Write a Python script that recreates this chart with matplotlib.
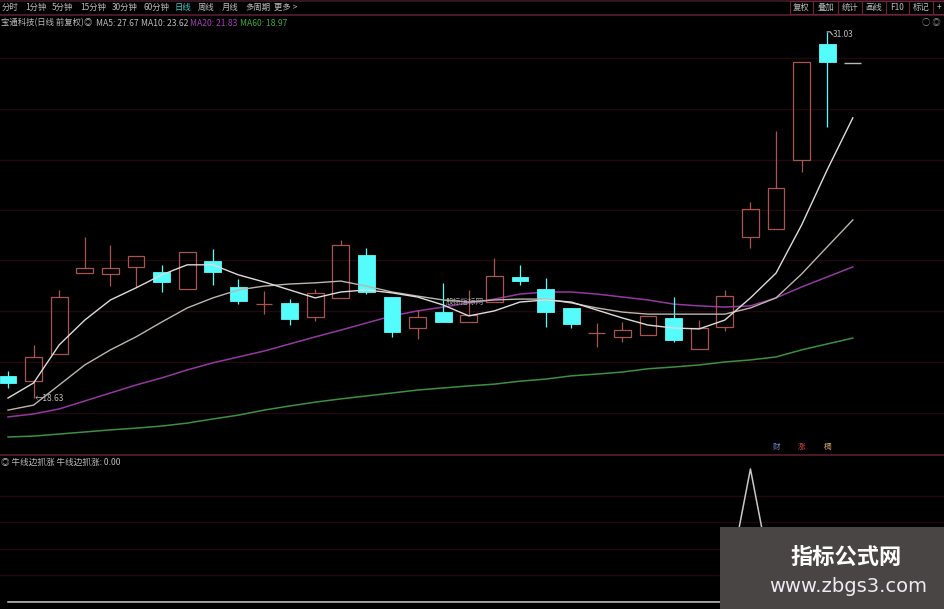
import matplotlib
matplotlib.use('Agg')
import matplotlib.pyplot as plt
from matplotlib.patches import Rectangle
from matplotlib.lines import Line2D

plt.rcParams['font.family'] = ['Noto Sans CJK SC', 'DejaVu Sans']

# daily bars (price units)
opens = [19.38, 19.21, 20.12, 22.87, 22.83, 23.07, 22.90, 22.32, 23.27, 22.39, 21.80, 21.85,
         21.37, 22.02, 23.47, 22.05, 21.00, 21.54, 21.20, 21.88, 22.73, 22.32, 21.68, 20.82,
         20.70, 20.76, 21.34, 20.29, 21.04, 24.08, 24.36, 26.69, 30.62, 29.98]
highs = [19.54, 20.43, 22.29, 24.08, 23.81, 23.44, 23.14, 23.58, 23.68, 22.66, 22.26, 21.98,
         22.32, 23.98, 23.71, 22.05, 21.61, 22.53, 22.29, 23.37, 23.14, 22.70, 21.68, 21.17,
         21.20, 21.41, 22.05, 21.27, 22.29, 25.27, 27.68, 30.01, 31.03, 29.98]
lows = [18.97, 18.63, 20.12, 22.87, 22.42, 22.39, 22.22, 22.32, 22.46, 21.81, 21.47, 21.10,
        21.24, 22.02, 22.15, 20.70, 20.63, 21.20, 21.20, 21.88, 22.46, 21.04, 21.00, 20.36,
        20.53, 20.76, 20.53, 20.29, 20.90, 23.71, 24.36, 26.29, 27.81, 29.98]
closes = [19.14, 20.02, 22.05, 23.03, 23.03, 23.44, 22.56, 23.58, 22.90, 21.92, 21.82, 21.31,
          22.19, 23.81, 22.22, 20.87, 21.37, 21.20, 21.44, 22.76, 22.59, 21.54, 21.14, 20.84,
          20.93, 21.41, 20.60, 21.00, 22.09, 25.03, 25.74, 30.01, 30.01, 29.98]

ma5 = [18.63, 19.14, 20.43, 21.27, 21.95, 22.36, 22.80, 23.14, 23.14, 22.80, 22.56, 22.29,
       22.02, 22.22, 22.29, 22.19, 22.05, 21.78, 21.41, 21.58, 21.88, 21.95, 21.88, 21.61,
       21.34, 21.10, 21.00, 20.97, 21.27, 22.02, 22.86, 24.49, 26.36, 28.12]
ma10 = [18.22, 18.39, 19.07, 19.75, 20.26, 20.70, 21.20, 21.68, 22.02, 22.29, 22.42, 22.49,
        22.53, 22.59, 22.42, 22.22, 22.08, 21.95, 21.88, 21.95, 21.98, 21.98, 21.85, 21.68,
        21.54, 21.47, 21.47, 21.47, 21.47, 21.68, 22.02, 22.83, 23.75, 24.66]
ma20 = [17.99, 18.09, 18.26, 18.53, 18.80, 19.07, 19.31, 19.58, 19.82, 20.02, 20.22, 20.46,
        20.70, 20.93, 21.17, 21.41, 21.58, 21.71, 21.85, 21.98, 22.15, 22.22, 22.22, 22.15,
        22.05, 21.95, 21.81, 21.75, 21.71, 21.75, 22.02, 22.39, 22.73, 23.07]
ma60 = [17.31, 17.34, 17.41, 17.48, 17.55, 17.61, 17.68, 17.78, 17.92, 18.05, 18.22, 18.36,
        18.49, 18.60, 18.70, 18.80, 18.90, 18.97, 19.04, 19.10, 19.20, 19.27, 19.38, 19.44,
        19.51, 19.62, 19.68, 19.75, 19.85, 19.92, 20.02, 20.26, 20.46, 20.66]

signal = [0] * 29 + [1] + [0] * 4

menu_items = ['分时', '1分钟', '5分钟', '15分钟', '30分钟', '60分钟', '日线', '周线', '月线', '多周期', '更多 >']
buttons = ['复权', '叠加', '统计', '画线', 'F10', '标记', '+']
stock_title = '宝通科技(日线 前复权)'
ma_labels = ['MA5: 27.67', 'MA10: 23.62', 'MA20: 21.83', 'MA60: 18.97']
indicator_name = '牛线边抓涨'
indicator_value = 0.00

W, H = 945, 609
UP = '#a8544f'
DOWN = '#54fcfc'
FLAT = '#b8b8b8'
GRID = '#22080d'
SEP = '#5a1c2c'
TXT = '#bcbcbc'


def fx(x):
    return x / W


def fy(y):
    return 1 - y / H


fig = plt.figure(figsize=(W / 100, H / 100), dpi=100, facecolor='black')

# main candle pane
ax = fig.add_axes([0, fy(455), 1, (455 - 15) / H], facecolor='black')
ax.set_xlim(-0.3125, 36.6)
ax.set_ylim(16.70, 31.60)
ax.set_yticks([18.12, 19.85, 21.58, 23.30, 25.00, 26.69, 28.42, 30.15])
ax.grid(axis='y', color=GRID, lw=1.0)
ax.tick_params(left=False, labelleft=False, bottom=False, labelbottom=False)
for s in ax.spines.values():
    s.set_visible(False)

bw = 0.66
for i, (o, h, l, c) in enumerate(zip(opens, highs, lows, closes)):
    top, bot = max(o, c), min(o, c)
    if c > o:
        ax.vlines(i, top, h, color=UP, lw=0.9, zorder=3)
        ax.vlines(i, l, bot, color=UP, lw=0.9, zorder=3)
        ax.add_patch(Rectangle((i - bw / 2, bot), bw, top - bot, facecolor='none',
                               edgecolor=UP, lw=0.9, zorder=3))
    elif c < o:
        ax.vlines(i, l, h, color=DOWN, lw=0.9, zorder=3)
        ax.add_patch(Rectangle((i - bw / 2, bot), bw, top - bot, facecolor=DOWN,
                               edgecolor=DOWN, lw=0.6, zorder=3))
    else:
        ax.hlines(c, i - bw / 2, i + bw / 2, color=FLAT, lw=1.0, zorder=3)

xs = range(len(closes))
ax.plot(xs, ma60, color='#3c9040', lw=1.1, zorder=2)
ax.plot(xs, ma20, color='#9438a0', lw=1.1, zorder=2)
ax.plot(xs, ma10, color='#bdb5ad', lw=1.0, zorder=4)
ax.plot(xs, ma5, color='#dcdcdc', lw=1.0, zorder=4)

# max / min price marks
imax = highs.index(max(highs))
imin = lows.index(min(lows))
ax.plot([imax, imax + 0.12, imax + 0.2], [max(highs), max(highs), max(highs) - 0.1],
        color=TXT, lw=0.8, zorder=5)
ax.text(imax + 0.22, max(highs) - 0.08, f'{max(highs):.2f}', color=TXT, fontsize=6,
        va='center', ha='left', zorder=5)
ax.text(imin + 0.05, min(lows), f'←{min(lows):.2f}', color=TXT, fontsize=6,
        va='center', ha='left', zorder=5)
ax.text(17.1, 21.88, '股标指标网', color='#a8a8a8', fontsize=5.5, va='center', zorder=6)

# indicator pane
ax2 = fig.add_axes([0, 0, 1, (H - 455) / H], facecolor='black')
ax2.set_xlim(-0.3125, 36.6)
ax2.set_ylim(-0.053, 1.105)
ax2.set_yticks([0.2, 0.4, 0.6, 0.8])
ax2.grid(axis='y', color=GRID, lw=1.0)
ax2.tick_params(left=False, labelleft=False, bottom=False, labelbottom=False)
for s in ax2.spines.values():
    s.set_visible(False)
ax2.plot(xs, signal, color='#c8c8c8', lw=1.1)

# frame lines
for y, col in [(1, '#3e1a26'), (15, SEP), (455, SEP)]:
    fig.add_artist(Line2D([0, 1], [fy(y), fy(y)], color=col, lw=1.2, zorder=5))

# top menu
menu_x = [2, 25, 52, 80, 112, 143, 175, 198, 222, 245, 274]
for name, x in zip(menu_items, menu_x):
    col = '#3cc8c8' if name == '日线' else TXT
    fig.text(fx(x), fy(7.5), name, color=col, fontsize=6, va='center', ha='left')

btn_x = [790, 813, 838, 862, 886, 909, 933, 957]
for k, name in enumerate(buttons):
    x0, x1 = btn_x[k], btn_x[k + 1]
    fig.add_artist(Rectangle((fx(x0), fy(14)), fx(x1 - x0), 13 / H, facecolor='none',
                             edgecolor='#6a2440', lw=0.8, zorder=5))
    cx = (x0 + x1) / 2 if x1 <= W else x0 + 6
    fig.text(fx(cx), fy(7.5), name, color=TXT, fontsize=6, va='center', ha='center')

# header line
fig.text(fx(1), fy(23), stock_title, color=TXT, fontsize=6, va='center', ha='left')
fig.text(fx(88), fy(23), '◎', color=TXT, fontsize=6, va='center', ha='center')
ma_x = [96, 141, 190, 240]
ma_cols = [TXT, TXT, '#a83cb8', '#3ca83c']
for lab, x, col in zip(ma_labels, ma_x, ma_cols):
    fig.text(fx(x), fy(23), lab, color=col, fontsize=6.2, va='center', ha='left')
fig.text(fx(922), fy(23), '○ ◎', color='#909090', fontsize=6, va='center', ha='left')

# small icons above the separator
for t, x, col in [('财', 777, '#6c8cc0'), ('涨', 802, '#d04848'), ('稠', 828, '#d0a070')]:
    fig.text(fx(x), fy(447), t, color=col, fontsize=5.5, va='center', ha='center')

fig.text(fx(1), fy(462), f'◎ {indicator_name} {indicator_name}: {indicator_value:.2f}',
         color=TXT, fontsize=6.2, va='center', ha='left')

# watermark box
fig.add_artist(Rectangle((fx(720), 0), fx(W - 720), (H - 527) / H, facecolor='#4a4545',
                         edgecolor='none', zorder=6))
fig.text(fx(846), fy(557), '指标公式网', color='white', fontsize=16, fontweight='bold',
         va='center', ha='center', zorder=7)
fig.text(fx(848), fy(586), 'www.zbgs3.com', color='#ececf4', fontsize=14,
         family='DejaVu Sans', va='center', ha='center', zorder=7)

fig.savefig('out.png', dpi=100, facecolor='black')
